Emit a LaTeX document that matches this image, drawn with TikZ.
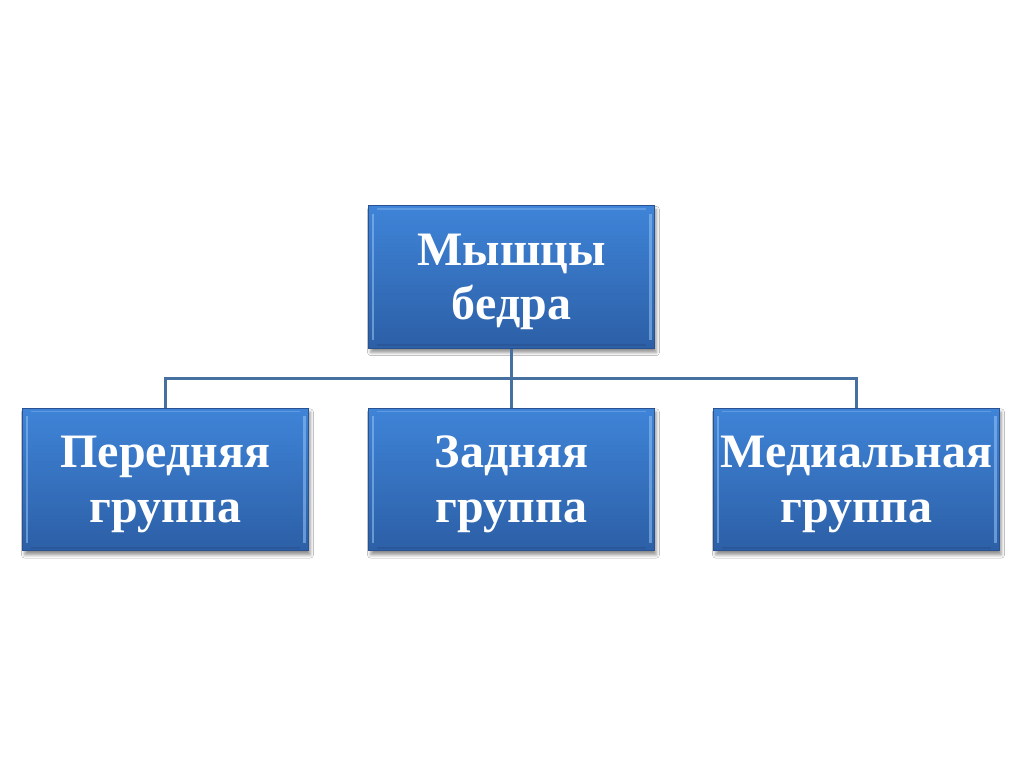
\documentclass[tikz,border=0pt]{standalone}
\usepackage{fontspec}
\setmainfont{Liberation Serif}
\usetikzlibrary{shadows.blur,calc}
\definecolor{boxtop}{HTML}{3F84D8}
\definecolor{boxbot}{HTML}{2C5FA6}
\definecolor{boxedge}{HTML}{2A5290}
\definecolor{boxhi}{HTML}{8DBDF0}
\definecolor{linecol}{HTML}{45709F}
\begin{document}
\begin{tikzpicture}[x=0.75pt,y=-0.75pt,
  blockbox/.style={rectangle, minimum width=214pt, minimum height=107pt, inner sep=0pt,
    top color=boxtop, bottom color=boxbot, draw=boxedge, line width=0.8pt,
    blur shadow={shadow xshift=1.5pt, shadow yshift=-3pt, shadow blur radius=2.5pt, shadow opacity=45},
    text=white, align=center,
    font=\bfseries\fontsize{36pt}{41pt}\selectfont,
    path picture={
      \draw[boxhi, line width=2pt, opacity=0.6]
        ($(path picture bounding box.north west)+(3pt,-6pt)$) -- ($(path picture bounding box.south west)+(3pt,6pt)$);
      \draw[boxhi, line width=2pt, opacity=0.6]
        ($(path picture bounding box.north east)+(-3pt,-6pt)$) -- ($(path picture bounding box.south east)+(-3pt,6pt)$);
      \draw[boxhi, line width=1pt, opacity=0.4]
        ($(path picture bounding box.north west)+(6pt,-2.5pt)$) -- ($(path picture bounding box.north east)+(-6pt,-2.5pt)$);
      \draw[boxedge, line width=1.5pt, opacity=0.6]
        ($(path picture bounding box.south west)+(6pt,2.5pt)$) -- ($(path picture bounding box.south east)+(-6pt,2.5pt)$);
    }},
  conn/.style={draw=linecol, line width=2pt},
  lbl/.style={text=white, align=center, font=\bfseries\fontsize{36pt}{41pt}\selectfont}]
\useasboundingbox (0,0) rectangle (1024,767);
\fill[white] (0,0) rectangle (1024,767);
\node[blockbox] (top) at (511.5,277) {};
\node[blockbox] (left) at (165.5,479.5) {};
\node[blockbox] (mid) at (511.5,479.5) {};
\node[blockbox] (right) at (856.5,479.5) {};
\node[lbl] (topt) at ($(top.center)+(0,5)$) {Мышцы\\бедра};
\node[lbl] (leftt) at ($(left.center)+(0,5)$) {Передняя\\группа};
\node[lbl] (midt) at ($(mid.center)+(0,5)$) {Задняя\\группа};
\node[lbl] (rightt) at ($(right.center)+(0,5)$) {Медиальная\\группа};
\coordinate (bus) at ($(top.south)!0.5!(mid.north)$);
\draw[conn] (top.south) -- (mid.north);
\draw[conn] (bus) -| (left.north);
\draw[conn] (bus) -| (right.north);
\end{tikzpicture}
\end{document}
